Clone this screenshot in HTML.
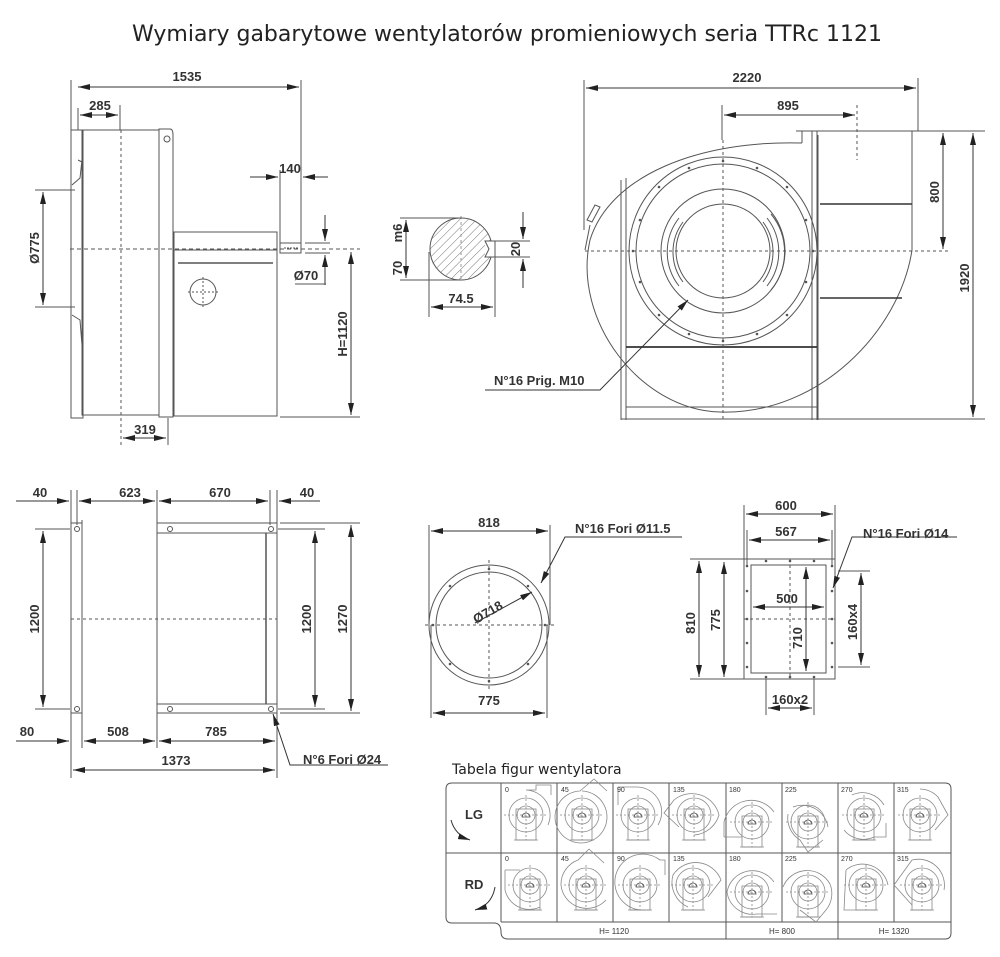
<!DOCTYPE html>
<html><head><meta charset="utf-8"><style>
html,body{margin:0;padding:0;background:#fff;}
svg{display:block;}
text{font-family:"Liberation Sans",sans-serif;fill:#333;}
.d{font-weight:bold;font-size:13px;}
</style></head><body>
<svg width="1000" height="957" viewBox="0 0 1000 957" xmlns="http://www.w3.org/2000/svg">
<defs>
<marker id="a" viewBox="0 0 12 6" refX="12" refY="3" markerWidth="12" markerHeight="6" markerUnits="userSpaceOnUse" orient="auto-start-reverse"><path d="M0,0L12,3L0,6z" fill="#222"/></marker>
<pattern id="h" width="6" height="6" patternUnits="userSpaceOnUse" patternTransform="rotate(45)"><line x1="0" y1="0" x2="0" y2="6" stroke="#777" stroke-width="1"/></pattern>
<g id="fan" fill="none" stroke="#888" stroke-width="0.8">
<circle cx="0" cy="0" r="17"/><circle cx="0" cy="0" r="9"/>
<line x1="-22" y1="0" x2="22" y2="0" stroke-dasharray="2,2"/><line x1="0" y1="-20" x2="0" y2="25" stroke-dasharray="2,2"/>
<rect x="-10" y="-6" width="20" height="31"/><line x1="-12" y1="25" x2="12" y2="25"/>
<path d="M-4,2 a4,4 0 0 1 8,0 z" stroke="#444"/>
</g>
</defs>
<rect width="1000" height="957" fill="#fff"/>
<text x="507" y="41" text-anchor="middle" font-size="22" style="fill:#222;font-family:'DejaVu Sans',sans-serif">Wymiary gabarytowe wentylatorów promieniowych seria TTRc 1121</text>

<g fill="none" stroke="#555" stroke-width="1">
<!-- TOP LEFT VIEW -->
<line x1="71" y1="80" x2="71" y2="130"/><line x1="301" y1="80" x2="301" y2="243"/>
<line x1="78" y1="87" x2="299" y2="87" marker-start="url(#a)" marker-end="url(#a)" stroke="#333"/>
<line x1="78" y1="108" x2="78" y2="130"/><line x1="120" y1="105" x2="120" y2="130"/>
<line x1="80" y1="115" x2="118" y2="115" marker-start="url(#a)" marker-end="url(#a)" stroke="#333"/>
<rect x="71" y="130" width="12" height="288"/>
<rect x="82" y="130" width="77" height="285"/>
<line x1="121" y1="130" x2="121" y2="445" stroke-dasharray="3,3"/>
<path d="M159,129 L170,129 Q173,129 173,135 L173,417 L159,417 Z"/>
<circle cx="167" cy="139" r="3"/>
<rect x="174" y="232" width="103" height="18"/>
<rect x="174" y="250" width="103" height="166"/>
<line x1="178" y1="263" x2="273" y2="263" stroke-width="1.5"/>
<rect x="280" y="243" width="21" height="10"/>
<line x1="284" y1="248" x2="298" y2="248" stroke-dasharray="2,1"/>
<line x1="70" y1="249" x2="360" y2="249" stroke-dasharray="4,3"/>
<circle cx="203" cy="292" r="13"/><line x1="188" y1="292" x2="218" y2="292" stroke-dasharray="2,2"/><line x1="203" y1="277" x2="203" y2="307" stroke-dasharray="2,2"/>
<path d="M78,160 L82,162 M72,185 L80,178 L82,160 M72,315 L80,320 L82,345"/>
<line x1="35" y1="190" x2="75" y2="190"/><line x1="35" y1="307" x2="75" y2="307"/>
<line x1="43" y1="192" x2="43" y2="305" marker-start="url(#a)" marker-end="url(#a)" stroke="#333"/>
<line x1="280" y1="170" x2="280" y2="243"/>
<line x1="250" y1="177" x2="278" y2="177" marker-end="url(#a)" stroke="#333"/>
<line x1="328" y1="177" x2="303" y2="177" marker-end="url(#a)" stroke="#333"/>
<line x1="305" y1="243" x2="330" y2="243"/><line x1="305" y1="253" x2="330" y2="253"/>
<line x1="325" y1="215" x2="325" y2="241" marker-end="url(#a)" stroke="#333"/>
<line x1="325" y1="285" x2="325" y2="255" marker-end="url(#a)" stroke="#333"/>
<line x1="295" y1="284" x2="326" y2="284"/>
<line x1="280" y1="417" x2="360" y2="417"/>
<line x1="351" y1="252" x2="351" y2="415" marker-start="url(#a)" marker-end="url(#a)" stroke="#333"/>
<line x1="168" y1="418" x2="168" y2="445"/>
<line x1="123" y1="438" x2="166" y2="438" marker-start="url(#a)" marker-end="url(#a)" stroke="#333"/>

<!-- SHAFT -->
<circle cx="461" cy="249" r="31" fill="url(#h)"/>
<rect x="485" y="241" width="12" height="16" fill="#fff" stroke="none"/>
<path d="M485,241 L495,241 L495,257 L485,257 L489,249 Z"/>
<line x1="461" y1="216" x2="461" y2="282" stroke-dasharray="3,3" stroke="#999"/>
<line x1="400" y1="218" x2="462" y2="218"/><line x1="400" y1="280" x2="462" y2="280"/>
<line x1="406" y1="220" x2="406" y2="278" marker-start="url(#a)" marker-end="url(#a)" stroke="#333"/>
<line x1="495" y1="241" x2="530" y2="241"/><line x1="495" y1="257" x2="530" y2="257"/>
<line x1="523" y1="212" x2="523" y2="239" marker-end="url(#a)" stroke="#333"/>
<line x1="523" y1="288" x2="523" y2="259" marker-end="url(#a)" stroke="#333"/>
<line x1="429" y1="252" x2="429" y2="317"/><line x1="495" y1="257" x2="495" y2="317"/>
<line x1="431" y1="307" x2="493" y2="307" marker-start="url(#a)" marker-end="url(#a)" stroke="#333"/>

<!-- RIGHT VIEW -->
<line x1="584" y1="80" x2="584" y2="230"/><line x1="918" y1="78" x2="918" y2="131"/>
<line x1="586" y1="88" x2="916" y2="88" marker-start="url(#a)" marker-end="url(#a)" stroke="#333"/>
<line x1="722" y1="105" x2="722" y2="140"/><line x1="857" y1="105" x2="857" y2="160" stroke-dasharray="3,3"/>
<line x1="724" y1="115" x2="855" y2="115" marker-start="url(#a)" marker-end="url(#a)" stroke="#333"/>
<path d="M796,131 L918,131 M802,131 L802,143"/>
<line x1="812" y1="131" x2="812" y2="420"/><line x1="817" y1="131" x2="817" y2="420"/>
<line x1="912" y1="131" x2="912" y2="250"/>
<path d="M802,143 C700,140 610,175 590,240 C572,320 640,410 720,412 C820,415 900,330 912,250"/>
<line x1="820" y1="204" x2="912" y2="204" stroke-width="1.6" stroke="#333"/>
<line x1="820" y1="298" x2="902" y2="298" stroke-width="1.6" stroke="#333"/>
<line x1="621" y1="180" x2="621" y2="420"/><line x1="626" y1="178" x2="626" y2="420"/>
<line x1="818" y1="135" x2="818" y2="420"/>
<line x1="626" y1="347" x2="817" y2="347" stroke-width="1.8" stroke="#333"/>
<line x1="626" y1="407" x2="817" y2="407"/><line x1="621" y1="419" x2="822" y2="419"/>
<line x1="822" y1="419" x2="985" y2="419"/>
<path d="M587,220 L595,205 L600,207 L592,222 Z M585,250 L590,225"/>
<circle cx="723" cy="251" r="94"/><circle cx="723" cy="251" r="87"/>
<circle cx="723" cy="251" r="62"/><circle cx="723" cy="251" r="47"/>
<path d="M683,222 A50,50 0 0 0 683,282 M679,218 A55,55 0 0 0 679,286 M763,222 A50,50 0 0 1 763,282 M767,218 A55,55 0 0 1 767,286 M771,214 A60,60 0 0 1 771,290"/>
<line x1="585" y1="251" x2="950" y2="251" stroke-dasharray="3,3"/>
<line x1="723" y1="140" x2="723" y2="420" stroke-dasharray="3,3"/>
<line x1="910" y1="131" x2="985" y2="131"/>
<line x1="943" y1="133" x2="943" y2="249" marker-start="url(#a)" marker-end="url(#a)" stroke="#333"/>
<line x1="973" y1="133" x2="973" y2="417" marker-start="url(#a)" marker-end="url(#a)" stroke="#333"/>
<path d="M485,390 L600,390 L688,300" marker-end="url(#a)" stroke="#333"/>

<!-- BOTTOM LEFT -->
<line x1="71" y1="490" x2="71" y2="525"/><line x1="77" y1="490" x2="77" y2="525"/>
<line x1="157" y1="490" x2="157" y2="525"/><line x1="270" y1="490" x2="270" y2="525"/><line x1="277" y1="490" x2="277" y2="525"/>
<line x1="16" y1="501" x2="69" y2="501" marker-end="url(#a)" stroke="#333"/>
<line x1="79" y1="501" x2="155" y2="501" marker-start="url(#a)" marker-end="url(#a)" stroke="#333"/>
<line x1="159" y1="501" x2="268" y2="501" marker-start="url(#a)" marker-end="url(#a)" stroke="#333"/>
<line x1="320" y1="501" x2="279" y2="501" marker-end="url(#a)" stroke="#333"/>
<rect x="71" y="523" width="11" height="190"/><line x1="82" y1="520" x2="82" y2="718"/>
<circle cx="77" cy="529" r="2.5"/><circle cx="77" cy="709" r="2.5"/>
<rect x="157" y="523" width="120" height="190"/>
<line x1="157" y1="533" x2="277" y2="533"/><line x1="157" y1="704" x2="277" y2="704"/>
<line x1="266" y1="533" x2="266" y2="704" stroke-width="1.5"/>
<circle cx="170" cy="529" r="2.5"/><circle cx="271" cy="529" r="2.5"/><circle cx="170" cy="709" r="2.5"/><circle cx="271" cy="709" r="2.5"/>
<line x1="71" y1="619" x2="277" y2="619" stroke-dasharray="3,3"/>
<line x1="35" y1="529" x2="70" y2="529"/><line x1="35" y1="709" x2="70" y2="709"/>
<line x1="43" y1="531" x2="43" y2="707" marker-start="url(#a)" marker-end="url(#a)" stroke="#333"/>
<line x1="278" y1="529" x2="325" y2="529"/><line x1="278" y1="709" x2="325" y2="709"/>
<line x1="280" y1="523" x2="360" y2="523"/><line x1="280" y1="713" x2="360" y2="713"/>
<line x1="315" y1="531" x2="315" y2="707" marker-start="url(#a)" marker-end="url(#a)" stroke="#333"/>
<line x1="351" y1="525" x2="351" y2="711" marker-start="url(#a)" marker-end="url(#a)" stroke="#333"/>
<line x1="71" y1="713" x2="71" y2="778"/><line x1="82" y1="718" x2="82" y2="748"/><line x1="157" y1="713" x2="157" y2="748"/><line x1="277" y1="713" x2="277" y2="778"/>
<line x1="16" y1="741" x2="69" y2="741" marker-end="url(#a)" stroke="#333"/>
<line x1="84" y1="741" x2="155" y2="741" marker-start="url(#a)" marker-end="url(#a)" stroke="#333"/>
<line x1="159" y1="741" x2="275" y2="741" marker-start="url(#a)" marker-end="url(#a)" stroke="#333"/>
<line x1="73" y1="770" x2="275" y2="770" marker-start="url(#a)" marker-end="url(#a)" stroke="#333"/>
<path d="M388,765 L290,765 L273,714" marker-end="url(#a)" stroke="#333"/>

<!-- ROUND FLANGE -->
<circle cx="489" cy="625" r="60"/><circle cx="489" cy="625" r="53"/>
<line x1="425" y1="625" x2="555" y2="625" stroke-dasharray="3,3"/><line x1="489" y1="560" x2="489" y2="690" stroke-dasharray="3,3"/>
<line x1="429" y1="525" x2="429" y2="625"/><line x1="550" y1="525" x2="550" y2="625"/>
<line x1="431" y1="531" x2="548" y2="531" marker-start="url(#a)" marker-end="url(#a)" stroke="#333"/>
<line x1="431" y1="625" x2="431" y2="718"/><line x1="547" y1="625" x2="547" y2="718"/>
<line x1="433" y1="713" x2="545" y2="713" marker-start="url(#a)" marker-end="url(#a)" stroke="#333"/>
<line x1="475" y1="623" x2="532" y2="592" marker-end="url(#a)" stroke="#333"/>
<path d="M682,537 L565,537 L541,583" marker-end="url(#a)" stroke="#333"/>

<!-- RECT FLANGE -->
<rect x="744" y="559" width="91" height="120"/><rect x="751" y="565" width="75" height="108"/>
<line x1="744" y1="619" x2="835" y2="619" stroke-dasharray="3,3"/><line x1="790" y1="559" x2="790" y2="679" stroke-dasharray="3,3"/>
<line x1="744" y1="505" x2="744" y2="559"/><line x1="835" y1="505" x2="835" y2="559"/>
<line x1="746" y1="514" x2="833" y2="514" marker-start="url(#a)" marker-end="url(#a)" stroke="#333"/>
<line x1="747" y1="530" x2="747" y2="565"/><line x1="832" y1="530" x2="832" y2="565"/>
<line x1="749" y1="540" x2="830" y2="540" marker-start="url(#a)" marker-end="url(#a)" stroke="#333"/>
<line x1="753" y1="607" x2="824" y2="607" marker-start="url(#a)" marker-end="url(#a)" stroke="#333"/>
<line x1="690" y1="559" x2="744" y2="559"/><line x1="690" y1="679" x2="744" y2="679"/>
<line x1="699" y1="561" x2="699" y2="677" marker-start="url(#a)" marker-end="url(#a)" stroke="#333"/>
<line x1="724" y1="562" x2="724" y2="677" marker-start="url(#a)" marker-end="url(#a)" stroke="#333"/>
<line x1="806" y1="567" x2="806" y2="671" marker-start="url(#a)" marker-end="url(#a)" stroke="#333"/>
<line x1="838" y1="571" x2="870" y2="571"/><line x1="838" y1="667" x2="870" y2="667"/>
<line x1="861" y1="573" x2="861" y2="665" marker-start="url(#a)" marker-end="url(#a)" stroke="#333"/>
<line x1="766" y1="679" x2="766" y2="715"/><line x1="814" y1="679" x2="814" y2="715"/>
<line x1="768" y1="708" x2="812" y2="708" marker-start="url(#a)" marker-end="url(#a)" stroke="#333"/>
<path d="M957,537 L852,537 L833,588" marker-end="url(#a)" stroke="#333"/>

<!-- TABLE -->
<path d="M452,783 L945,783 Q951,783 951,789 L951,933 Q951,939 945,939 L508,939 Q501,939 501,932 Q501,923 494,923 L452,923 Q446,923 446,917 L446,789 Q446,783 452,783 Z"/>
<line x1="446" y1="853" x2="951" y2="853"/><line x1="501" y1="922" x2="951" y2="922"/>
<line x1="501" y1="783" x2="501" y2="922"/><line x1="557" y1="783" x2="557" y2="922"/><line x1="613" y1="783" x2="613" y2="922"/><line x1="669" y1="783" x2="669" y2="922"/>
<line x1="726" y1="783" x2="726" y2="939"/><line x1="782" y1="783" x2="782" y2="922"/><line x1="838" y1="783" x2="838" y2="939"/><line x1="894" y1="783" x2="894" y2="922"/>
<path d="M451,820 Q455,835 470,840" marker-end="url(#a)" stroke="#333"/>
<path d="M495,887 Q492,905 475,910" marker-end="url(#a)" stroke="#333"/>
</g>

<g fill="#555">
<circle cx="723" cy="161" r="1.3"/><circle cx="723" cy="341" r="1.3"/><circle cx="633" cy="251" r="1.3"/><circle cx="813" cy="251" r="1.3"/>
<circle cx="659" cy="187" r="1.3"/><circle cx="787" cy="187" r="1.3"/><circle cx="659" cy="315" r="1.3"/><circle cx="787" cy="315" r="1.3"/>
<circle cx="689" cy="168" r="1.3"/><circle cx="757" cy="168" r="1.3"/><circle cx="640" cy="220" r="1.3"/><circle cx="806" cy="220" r="1.3"/>
<circle cx="640" cy="282" r="1.3"/><circle cx="806" cy="282" r="1.3"/><circle cx="689" cy="334" r="1.3"/><circle cx="757" cy="334" r="1.3"/>
<circle cx="489" cy="569" r="1.3"/><circle cx="489" cy="681" r="1.3"/><circle cx="433" cy="625" r="1.3"/><circle cx="545" cy="625" r="1.3"/>
<circle cx="450" cy="586" r="1.3"/><circle cx="528" cy="586" r="1.3"/><circle cx="450" cy="664" r="1.3"/><circle cx="528" cy="664" r="1.3"/>
<circle cx="747" cy="566" r="1.3"/><circle cx="747" cy="591" r="1.3"/><circle cx="747" cy="619" r="1.3"/><circle cx="747" cy="643" r="1.3"/><circle cx="747" cy="667" r="1.3"/>
<circle cx="832" cy="566" r="1.3"/><circle cx="832" cy="591" r="1.3"/><circle cx="832" cy="619" r="1.3"/><circle cx="832" cy="643" r="1.3"/><circle cx="832" cy="667" r="1.3"/>
<circle cx="766" cy="561" r="1.3"/><circle cx="790" cy="561" r="1.3"/><circle cx="814" cy="561" r="1.3"/><circle cx="766" cy="677" r="1.3"/><circle cx="790" cy="677" r="1.3"/><circle cx="814" cy="677" r="1.3"/>
</g>

<!-- mini fans -->
<g fill="none" stroke="#888" stroke-width="0.8">
<g transform="translate(526,815)"><use href="#fan"/><path d="M0,-25 A25,25 0 0 1 22,10 M0,-25 L10,-25 L10,-30 L25,-30 L25,-20"/></g>
<g transform="translate(582,815)"><use href="#fan"/><path d="M0,-24 A26,26 0 1 1 -2,-24 L12,-36 L25,-24"/></g>
<g transform="translate(638,815)"><use href="#fan"/><path d="M-20,-28 L0,-28 A25,25 0 0 1 20,10 M-20,-28 L-20,-10"/></g>
<g transform="translate(694,815)"><use href="#fan"/><path d="M-20,-15 A28,28 0 0 1 25,0 A28,28 0 0 1 0,20 M-20,-15 L-30,-2 L-15,12"/></g>
<g transform="translate(752,822)"><use href="#fan"/><path d="M-28,15 L-28,0 A28,28 0 0 1 22,-10 M-28,15 L-10,15"/></g>
<g transform="translate(808,822)"><use href="#fan"/><path d="M-15,-15 A26,26 0 0 1 20,5 M-20,-8 A26,26 0 0 0 -8,18 L0,30 L15,18"/></g>
<g transform="translate(864,815)"><use href="#fan"/><path d="M-12,-20 A25,25 0 0 1 20,-10 M-20,15 A25,25 0 0 0 10,22 L22,22 L22,8"/></g>
<g transform="translate(920,815)"><use href="#fan"/><path d="M0,-26 A26,26 0 0 1 18,-18 L28,0 L15,15"/></g>
<g transform="translate(530,885)"><use href="#fan"/><path d="M-25,-15 L-25,5 A25,25 0 0 0 10,22 M-25,-15 L-10,-15"/></g>
<g transform="translate(586,885)"><use href="#fan"/><path d="M-25,0 A26,26 0 0 0 20,15 M-25,0 A26,26 0 0 1 -8,-25 L3,-36 L18,-22"/></g>
<g transform="translate(640,885)"><use href="#fan"/><path d="M-25,0 A28,28 0 0 1 20,-25 L25,-25 L25,-10 M-25,0 A28,28 0 0 0 5,25"/></g>
<g transform="translate(693,885)"><use href="#fan"/><path d="M-20,-10 A27,27 0 0 1 28,-5 L15,12 M-20,-10 A27,27 0 0 0 -5,22"/></g>
<g transform="translate(752,892)"><use href="#fan"/><path d="M-25,0 A26,26 0 0 1 22,-10 M-25,0 A26,26 0 0 0 5,22 L25,22"/></g>
<g transform="translate(808,892)"><use href="#fan"/><path d="M-25,-5 A26,26 0 0 1 22,-8 A26,26 0 0 1 18,18 L8,30 L-8,18"/></g>
<g transform="translate(866,885)"><use href="#fan"/><path d="M-20,-15 A26,26 0 0 1 22,0 M-20,-15 L-22,25 L-12,25"/></g>
<g transform="translate(922,885)"><use href="#fan"/><path d="M-10,-25 A26,26 0 0 1 22,5 M-10,-25 L-28,0 L-10,20"/></g>
</g>

<g class="d">
<text x="187" y="81" text-anchor="middle">1535</text>
<text x="100" y="110" text-anchor="middle">285</text>
<text x="290" y="173" text-anchor="middle">140</text>
<text x="306" y="280" text-anchor="middle">Ø70</text>
<text x="145" y="434" text-anchor="middle">319</text>
<text transform="translate(39,248) rotate(-90)" text-anchor="middle">Ø775</text>
<text transform="translate(347,334) rotate(-90)" text-anchor="middle">H=1120</text>
<text transform="translate(402,233) rotate(-90)" text-anchor="middle">m6</text>
<text transform="translate(402,268) rotate(-90)" text-anchor="middle">70</text>
<text transform="translate(520,249) rotate(-90)" text-anchor="middle">20</text>
<text x="461" y="303" text-anchor="middle">74.5</text>
<text x="747" y="82" text-anchor="middle">2220</text>
<text x="788" y="110" text-anchor="middle">895</text>
<text transform="translate(939,192) rotate(-90)" text-anchor="middle">800</text>
<text transform="translate(969,278) rotate(-90)" text-anchor="middle">1920</text>
<text x="494" y="385">N°16 Prig. M10</text>
<text x="40" y="497" text-anchor="middle">40</text>
<text x="130" y="497" text-anchor="middle">623</text>
<text x="220" y="497" text-anchor="middle">670</text>
<text x="307" y="497" text-anchor="middle">40</text>
<text transform="translate(39,619) rotate(-90)" text-anchor="middle">1200</text>
<text transform="translate(311,619) rotate(-90)" text-anchor="middle">1200</text>
<text transform="translate(347,619) rotate(-90)" text-anchor="middle">1270</text>
<text x="27" y="736" text-anchor="middle">80</text>
<text x="118" y="736" text-anchor="middle">508</text>
<text x="216" y="736" text-anchor="middle">785</text>
<text x="176" y="765" text-anchor="middle">1373</text>
<text x="303" y="764">N°6 Fori Ø24</text>
<text x="489" y="527" text-anchor="middle">818</text>
<text x="489" y="705" text-anchor="middle">775</text>
<text transform="translate(490,616) rotate(-30)" text-anchor="middle">Ø718</text>
<text x="575" y="533">N°16 Fori Ø11.5</text>
<text x="786" y="510" text-anchor="middle">600</text>
<text x="786" y="536" text-anchor="middle">567</text>
<text x="787" y="603" text-anchor="middle">500</text>
<text transform="translate(695,623) rotate(-90)" text-anchor="middle">810</text>
<text transform="translate(720,620) rotate(-90)" text-anchor="middle">775</text>
<text transform="translate(802,638) rotate(-90)" text-anchor="middle">710</text>
<text transform="translate(857,622) rotate(-90)" text-anchor="middle">160x4</text>
<text x="790" y="704" text-anchor="middle">160x2</text>
<text x="863" y="538">N°16 Fori Ø14</text>
<text x="474" y="819" text-anchor="middle">LG</text>
<text x="474" y="889" text-anchor="middle">RD</text>
</g>
<text x="452" y="774" font-size="14" style="fill:#222;font-family:'DejaVu Sans',sans-serif">Tabela figur wentylatora</text>
<g font-size="7" style="fill:#555">
<text x="505" y="792">0</text><text x="561" y="792">45</text><text x="617" y="792">90</text><text x="673" y="792">135</text>
<text x="729" y="792">180</text><text x="785" y="792">225</text><text x="841" y="792">270</text><text x="897" y="792">315</text>
<text x="505" y="861">0</text><text x="561" y="861">45</text><text x="617" y="861">90</text><text x="673" y="861">135</text>
<text x="729" y="861">180</text><text x="785" y="861">225</text><text x="841" y="861">270</text><text x="897" y="861">315</text>
</g>
<g font-size="8" style="fill:#444" text-anchor="middle">
<text x="614" y="934">H= 1120</text><text x="782" y="934">H= 800</text><text x="894" y="934">H= 1320</text>
</g>
</svg>
</body></html>
